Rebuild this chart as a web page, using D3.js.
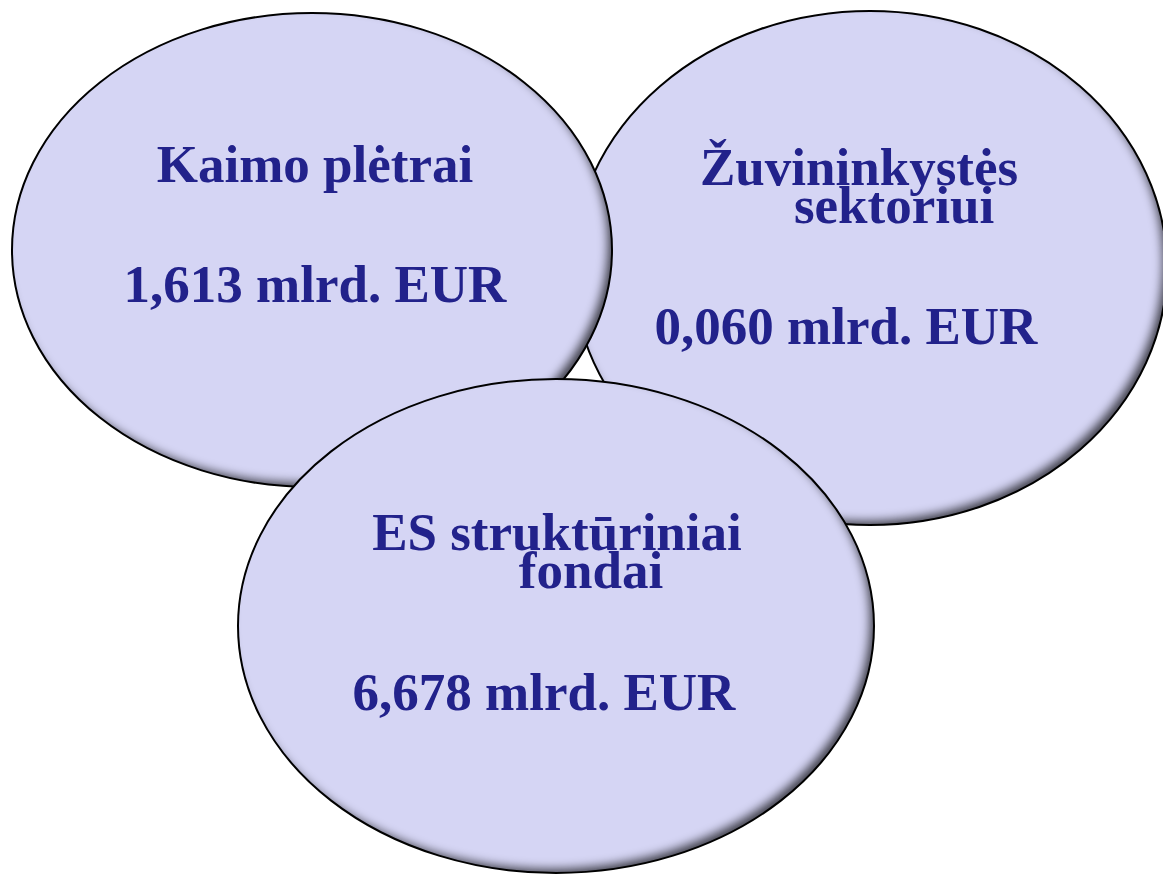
<!DOCTYPE html>
<html lang="lt">
<head>
  <meta charset="UTF-8">
  <title>ES lėšos</title>
  <script src="https://d3js.org/d3.v7.min.js"></script>
  <style>
      body { margin: 0; background: #fff; }
      .bubble {
          fill: #d5d5f4;
          stroke: #000;
          stroke-width: 2px;
      }
      text {
          font-family: "Liberation Serif", "Times New Roman", serif;
          font-weight: bold;
          font-size: 53px;
          fill: #22228b;
      }
  </style>
</head>
<body>
<svg width="1163" height="874"></svg>
<script>
  // funds, in drawing order (back to front)
  const titles = [
    ["Žuvininkystės", "sektoriui"],
    ["Kaimo plėtrai"],
    ["ES struktūriniai", "fondai"]
  ];
  const values = [0.060, 1.613, 6.678];
  const unit = "mlrd. EUR";

  // layout of each bubble
  const layout = [
    {cx: 870, cy: 268, rx: 297, ry: 257, lines: [859, 894], titleY: 185, lineGap: 38, valueX: 846, valueY: 344},
    {cx: 312, cy: 250, rx: 300, ry: 237, lines: [315], titleY: 182, lineGap: 38, valueX: 315, valueY: 302},
    {cx: 556, cy: 626, rx: 318, ry: 247, lines: [557, 591], titleY: 550, lineGap: 38, valueX: 544, valueY: 710}
  ];

  const lt = d3.formatLocale({decimal: ",", thousands: " ", grouping: [3], currency: ["", ""]});
  const fmt = lt.format(".3f");

  const svg = d3.select("svg");

  // inner shadow on the lower right edge
  const f = svg.append("defs").append("filter")
    .attr("id", "inner")
    .attr("x", "-10%").attr("y", "-10%")
    .attr("width", "120%").attr("height", "120%");
  f.append("feFlood").attr("flood-color", "#4a4a55");
  f.append("feComposite").attr("operator", "out").attr("in2", "SourceGraphic");
  f.append("feGaussianBlur").attr("stdDeviation", 4);
  f.append("feOffset").attr("dx", -6).attr("dy", -6);
  f.append("feComposite").attr("operator", "atop").attr("in2", "SourceGraphic");

  const data = titles.map((t, i) => ({title: t, value: values[i], pos: layout[i]}));

  const g = svg.selectAll("g.fund")
    .data(data)
    .enter().append("g")
    .attr("class", "fund");

  g.append("ellipse")
    .attr("class", "bubble")
    .attr("cx", d => d.pos.cx)
    .attr("cy", d => d.pos.cy)
    .attr("rx", d => d.pos.rx)
    .attr("ry", d => d.pos.ry)
    .style("stroke", "none")
    .attr("filter", "url(#inner)");

  g.append("ellipse")
    .attr("cx", d => d.pos.cx)
    .attr("cy", d => d.pos.cy)
    .attr("rx", d => d.pos.rx)
    .attr("ry", d => d.pos.ry)
    .attr("fill", "none")
    .attr("stroke", "#000")
    .attr("stroke-width", 2);

  g.each(function(d) {
    const el = d3.select(this);
    d.title.forEach((line, j) => {
      el.append("text")
        .attr("text-anchor", "middle")
        .attr("x", d.pos.lines[j])
        .attr("y", d.pos.titleY + j * d.pos.lineGap)
        .text(line);
    });
    el.append("text")
      .attr("text-anchor", "middle")
      .attr("x", d.pos.valueX)
      .attr("y", d.pos.valueY)
      .text(fmt(d.value) + " " + unit);
  });
</script>
</body>
</html>
